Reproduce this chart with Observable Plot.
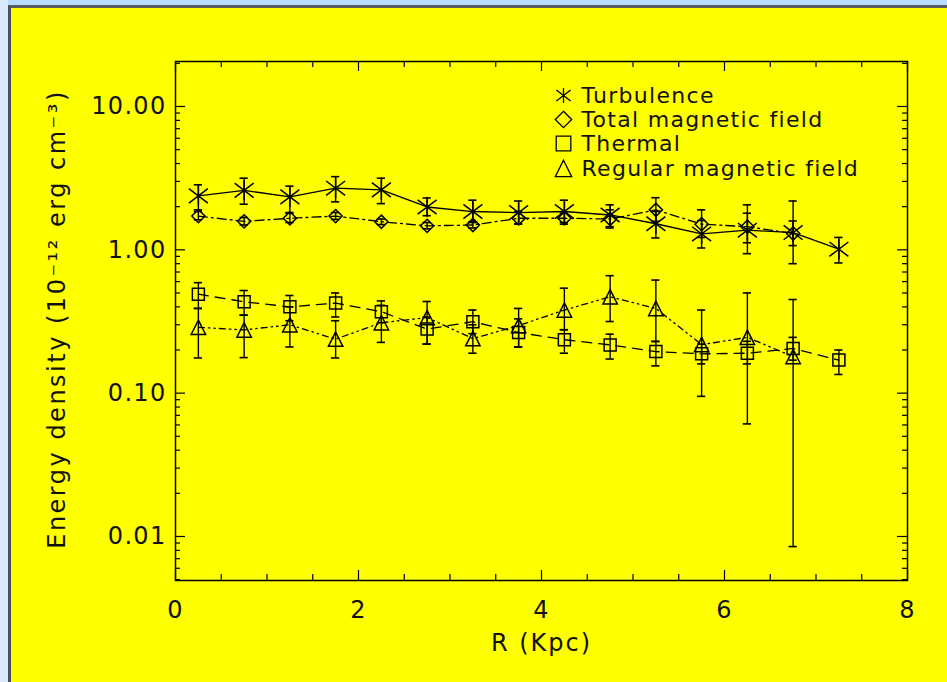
<!DOCTYPE html>
<html><head><meta charset="utf-8">
<script src="https://cdn.jsdelivr.net/npm/d3@7"></script>
<script src="https://cdn.jsdelivr.net/npm/@observablehq/plot@0.6"></script>
<style>
html,body{margin:0;padding:0;}
body{width:947px;height:682px;overflow:hidden;position:relative;background:#b8dcff;}
#leftstrip{position:absolute;left:0;top:0;width:8px;height:682px;background:#dbeafd;}
#panel{position:absolute;left:8px;top:5px;right:0;bottom:0;background:#ffff00;border-left:3px solid #4b4f57;border-top:3px solid #575b62;}
#chart{position:absolute;left:0;top:0;}
</style></head><body>
<div id="leftstrip"></div><div id="panel"></div><div id="chart"></div>
<script>
// Radius (Kpc) of each ring
const R = [0.25, 0.75, 1.25, 1.75, 2.25, 2.75, 3.25, 3.75, 4.25, 4.75, 5.25, 5.75, 6.25, 6.75, 7.25];

// Turbulence
const turbulence   = [2.38, 2.60, 2.34, 2.69, 2.62, 1.99, 1.85, 1.82, 1.85, 1.75, 1.52, 1.29, 1.37, 1.32, 1.01];
const turbulenceLo = [1.90, 2.08, 1.82, 2.16, 2.10, 1.73, 1.55, 1.51, 1.51, 1.42, 1.21, 1.03, 0.94, 0.80, 0.81];
const turbulenceHi = [2.84, 3.16, 2.78, 3.24, 3.16, 2.30, 2.22, 2.19, 2.22, 2.06, 1.85, 1.60, 2.06, 2.19, 1.22];

// Total magnetic field
const totalB   = [1.72, 1.58, 1.66, 1.72, 1.57, 1.47, 1.49, 1.66, 1.66, 1.64, 1.90, 1.51, 1.45, 1.30];
const totalBLo = [1.62, 1.49, 1.55, 1.63, 1.50, 1.40, 1.42, 1.52, 1.55, 1.45, 1.58, 1.22, 1.12, 1.07];
const totalBHi = [1.85, 1.68, 1.80, 1.82, 1.64, 1.55, 1.57, 1.85, 1.80, 1.90, 2.31, 1.90, 1.80, 1.59];

// Thermal
const thermal   = [0.49, 0.434, 0.40, 0.425, 0.37, 0.28, 0.315, 0.265, 0.236, 0.217, 0.195, 0.188, 0.19, 0.205, 0.17];
const thermalLo = [0.39, 0.35, 0.32, 0.34, 0.31, 0.22, 0.26, 0.21, 0.19, 0.173, 0.155, 0.16, 0.16, 0.17, 0.135];
const thermalHi = [0.59, 0.52, 0.48, 0.50, 0.44, 0.34, 0.38, 0.33, 0.277, 0.258, 0.229, 0.22, 0.23, 0.245, 0.20];

// Regular magnetic field
const regularB   = [0.288, 0.276, 0.30, 0.238, 0.31, 0.337, 0.24, 0.296, 0.38, 0.47, 0.39, 0.218, 0.245, 0.18];
const regularBLo = [0.176, 0.177, 0.21, 0.176, 0.226, 0.22, 0.19, 0.21, 0.277, 0.316, 0.23, 0.095, 0.061, 0.0085];
const regularBHi = [0.39, 0.35, 0.40, 0.32, 0.41, 0.436, 0.30, 0.39, 0.54, 0.66, 0.615, 0.38, 0.50, 0.45];

// Legend labels and axis ticks
const legendLabels = ["Turbulence", "Total magnetic field", "Thermal", "Regular magnetic field"];
const xTicks = [0, 2, 4, 6, 8];
const yTicks = [0.01, 0.1, 1, 10];
const xLabel = "R (Kpc)";
const yLabel = "Energy density (10\u207B\u00B9\u00B2 erg cm\u207B\u00B3)";

const rows = (vals, lo, hi) => vals.map((v, i) => ({x: R[i], y: v, lo: lo[i], hi: hi[i]}));

const rad = s => Math.sqrt(s / Math.PI);
const sym = {
  asterisk: {draw(c, s) { const r = rad(s), a = 0.95 * r, b = 0.72 * r;
    c.moveTo(0, -r); c.lineTo(0, r); c.moveTo(-a, -b); c.lineTo(a, b); c.moveTo(-a, b); c.lineTo(a, -b); }},
  diamond: {draw(c, s) { const r = rad(s);
    c.moveTo(0, -r); c.lineTo(r, 0); c.lineTo(0, r); c.lineTo(-r, 0); c.closePath(); }},
  square: {draw(c, s) { const r = rad(s);
    c.moveTo(-r, -r); c.lineTo(r, -r); c.lineTo(r, r); c.lineTo(-r, r); c.closePath(); }},
  triangle: {draw(c, s) { const r = rad(s);
    c.moveTo(0, -r); c.lineTo(r, r); c.lineTo(-r, r); c.closePath(); }}
};

const series = [
  {data: rows(turbulence, turbulenceLo, turbulenceHi), symbol: sym.asterisk, r: 10, lr: 7.5, dash: null},
  {data: rows(totalB, totalBLo, totalBHi), symbol: sym.diamond, r: 6.6, lr: 8.2, dash: "9,4,2,4"},
  {data: rows(thermal, thermalLo, thermalHi), symbol: sym.square, r: 6, lr: 7.3, dash: "10,7"},
  {data: rows(regularB, regularBLo, regularBHi), symbol: sym.triangle, r: 7.2, lr: 8.2, dash: "6,4,1.5,4,1.5,4"}
];

const W = 947, H = 682, mL = 175, mR = 40, mT = 61, mB = 102;
const fw = W - mL - mR, fh = H - mT - mB;

const xMinor = d3.range(0.5, 8, 0.5).filter(v => !xTicks.includes(v));
const yMinor = [];
for (const dec of [0.001, 0.01, 0.1, 1, 10]) for (let k = 2; k <= 9; k++) {
  const v = dec * k; if (v >= 0.00493 && v <= 20.6) yMinor.push(v);
}

const ink = "#000";
const marks = [];
// inward ticks on all four sides
marks.push(
  Plot.tickX(xTicks, {x: d => d, insetTop: fh - 10, stroke: ink, strokeWidth: 1.2}),
  Plot.tickX(xMinor, {x: d => d, insetTop: fh - 6, stroke: ink, strokeWidth: 1.2}),
  Plot.tickX(xTicks, {x: d => d, insetBottom: fh - 10, stroke: ink, strokeWidth: 1.2}),
  Plot.tickX(xMinor, {x: d => d, insetBottom: fh - 6, stroke: ink, strokeWidth: 1.2}),
  Plot.tickY(yTicks, {y: d => d, insetRight: fw - 10, stroke: ink, strokeWidth: 1.2}),
  Plot.tickY(yMinor, {y: d => d, insetRight: fw - 5, stroke: ink, strokeWidth: 1.2}),
  Plot.tickY(yTicks, {y: d => d, insetLeft: fw - 10, stroke: ink, strokeWidth: 1.2}),
  Plot.tickY(yMinor, {y: d => d, insetLeft: fw - 5, stroke: ink, strokeWidth: 1.2}),
  Plot.frame({stroke: ink, strokeWidth: 1.5})
);

for (const s of series) {
  marks.push(
    Plot.line(s.data, {x: "x", y: "y", stroke: ink, strokeWidth: 1.3, strokeDasharray: s.dash}),
    Plot.ruleX(s.data, {x: "x", y1: "lo", y2: "hi", stroke: ink, strokeWidth: 1.4}),
    Plot.ruleY(s.data, {y: "lo", x1: d => d.x - 0.045, x2: d => d.x + 0.045, stroke: ink, strokeWidth: 1.6}),
    Plot.ruleY(s.data, {y: "hi", x1: d => d.x - 0.045, x2: d => d.x + 0.045, stroke: ink, strokeWidth: 1.6}),
    Plot.dot(s.data, {x: "x", y: "y", symbol: s.symbol, r: s.r, stroke: ink, fill: "none", strokeWidth: 1.5})
  );
}

// legend inside the frame
const legendRowY = [34, 58, 82, 107];
series.forEach((s, i) => {
  marks.push(
    Plot.dot([legendLabels[i]], {frameAnchor: "top-left", dx: 388, dy: legendRowY[i], symbol: s.symbol, r: s.lr, stroke: ink, fill: "none", strokeWidth: 1.3}),
    Plot.text([legendLabels[i]], {frameAnchor: "top-left", dx: 406, dy: legendRowY[i], text: d => d, textAnchor: "start", lineAnchor: "middle", fontSize: 22, fill: "#111"})
  );
});

marks.push(
  Plot.axisX({ticks: xTicks, tickSize: 0, tickPadding: 20, tickFormat: d => String(d), label: null, fontSize: 24, fill: "#111"}),
  Plot.axisY({ticks: yTicks, tickSize: 0, tickPadding: 9, tickFormat: d3.format(".2f"), label: null, fontSize: 24, fill: "#111"}),
  Plot.text([xLabel], {frameAnchor: "bottom", dy: 63, text: d => d, textAnchor: "middle", lineAnchor: "middle", fontSize: 24, fill: "#111", style: "letter-spacing:2px"}),
  Plot.text([yLabel], {frameAnchor: "left", dx: -118, dy: -2, rotate: -90, text: d => d, textAnchor: "middle", lineAnchor: "middle", fontSize: 24, fill: "#111"})
);

const chart = Plot.plot({
  width: W, height: H,
  marginLeft: mL, marginRight: mR, marginTop: mT, marginBottom: mB,
  x: {domain: [0, 8]},
  y: {type: "log", domain: [0.00493, 20.6]},
  style: {background: "transparent", fontFamily: "DejaVu Sans, sans-serif", fontSize: "22px", letterSpacing: "1.3px", overflow: "visible"},
  marks
});
// widen the y-axis title's letter spacing to match the reference's wide stroke font
chart.querySelectorAll("text").forEach(t => {
  if (t.textContent === yLabel) t.setAttribute("letter-spacing", "2.5px");
  if (t.textContent === xLabel) t.setAttribute("letter-spacing", "2px");
});
document.getElementById("chart").appendChild(chart);
</script></body></html>
